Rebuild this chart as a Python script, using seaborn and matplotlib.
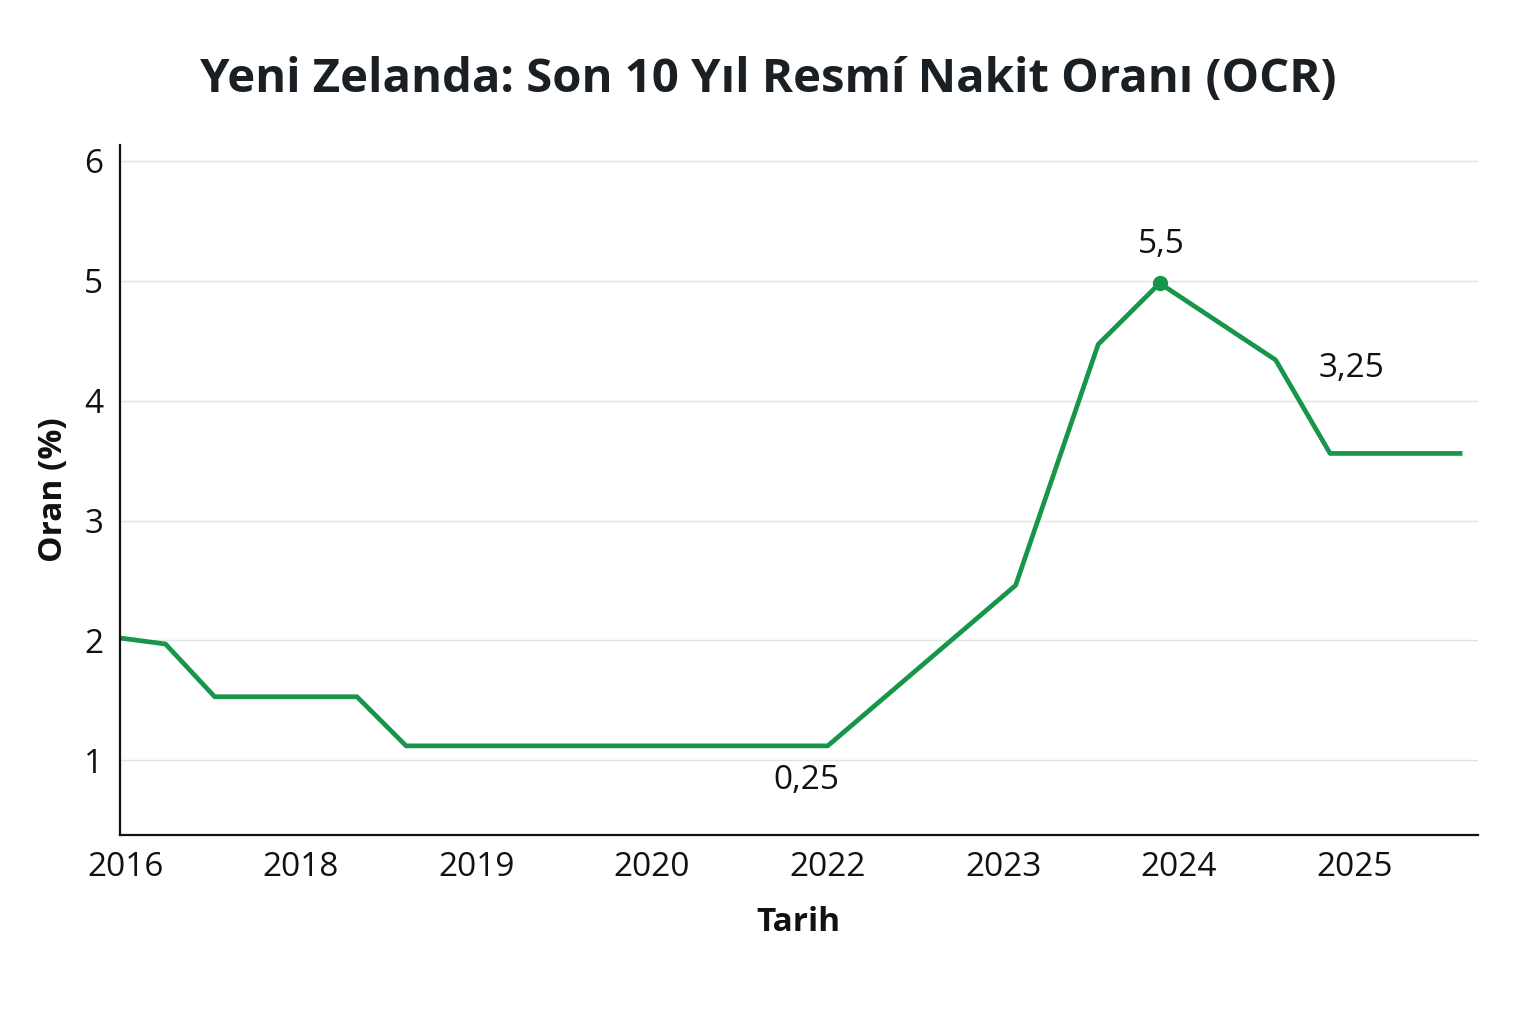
import matplotlib
matplotlib.use("Agg")
import matplotlib.pyplot as plt
import seaborn as sns
import pandas as pd

plt.rcParams["font.family"] = "Open Sans"

x_pos = [-0.03, 0.23, 0.51, 1.32, 1.60, 4.0, 5.07, 5.54, 5.89, 6.55, 6.86, 7.60]
rate = [2.02, 1.97, 1.53, 1.53, 1.12, 1.12, 2.46, 4.47, 4.98, 4.34, 3.56, 3.56]
tick_labels = ["2016", "2018", "2019", "2020", "2022", "2023", "2024", "2025"]
ann_text = ["5,5", "3,25", "0,25"]
ann_xy = [(5.9, 5.3), (6.98, 4.27), (3.88, 0.83)]

df = pd.DataFrame({"x": x_pos, "y": rate})
green = "#17964a"

fig = plt.figure(figsize=(15.36, 10.24), dpi=100)
ax = fig.add_axes([0.078, 0.185, 0.884, 0.673])
sns.lineplot(data=df, x="x", y="y", color=green, linewidth=3.4, ax=ax)
ax.plot([x_pos[8]], [rate[8]], "o", color=green, markersize=10)
for t, (xx, yy) in zip(ann_text, ann_xy):
    ax.text(xx, yy, t, fontsize=24, ha="center", va="center", color="#111")

ax.set_xlim(-0.03, 7.7)
ax.set_ylim(0.38, 6.13)
ax.set_xticks(range(len(tick_labels)))
ax.set_xticklabels(tick_labels)
ax.set_yticks([1, 2, 3, 4, 5, 6])
ax.tick_params(labelsize=24, length=0, pad=12, colors="#111")
ax.grid(axis="y", color="#dde6e6", linewidth=1)
ax.set_axisbelow(True)
for s in ["top", "right"]:
    ax.spines[s].set_visible(False)
for s in ["left", "bottom"]:
    ax.spines[s].set_linewidth(1.6)
    ax.spines[s].set_color("#111")
ax.set_xlabel("Tarih", fontsize=24, fontweight="bold", labelpad=16, color="#111")
ax.set_ylabel("Oran (%)", fontsize=24, fontweight="bold", labelpad=10, color="#111")
fig.suptitle("Yeni Zelanda: Son 10 Yıl Resmí Nakit Oranı (OCR)", fontsize=34,
             fontweight="bold", y=0.945, color="#1a1f24")
fig.savefig("out.png", dpi=100)
